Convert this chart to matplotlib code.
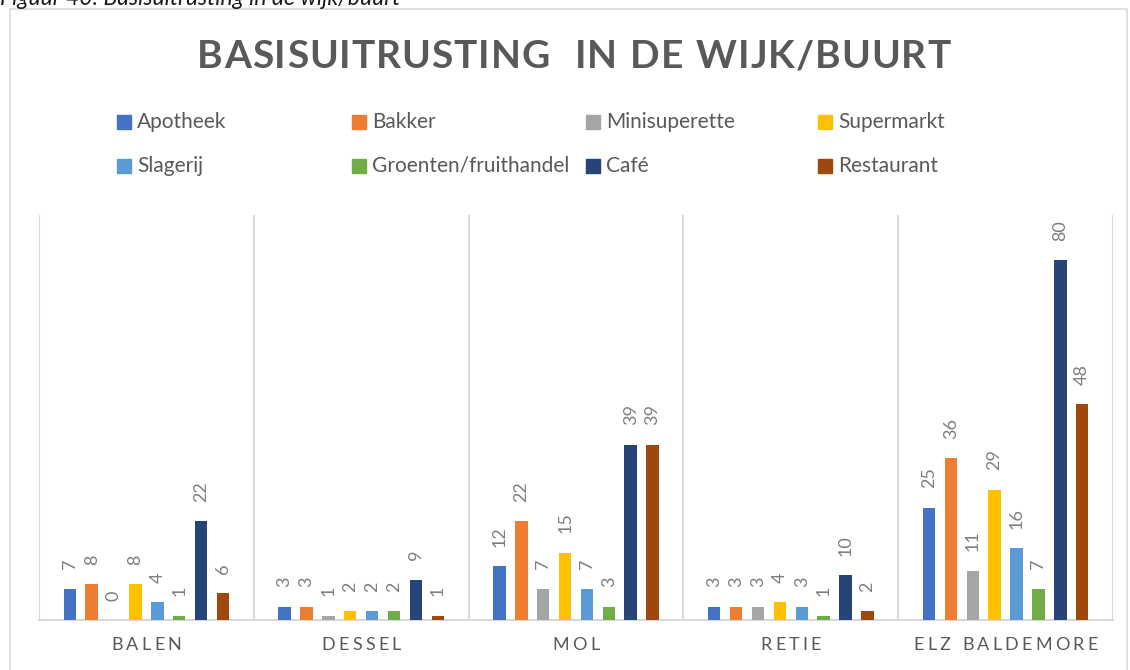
import matplotlib
matplotlib.use("Agg")
import matplotlib.pyplot as plt
from matplotlib.patches import Rectangle

# gemeenten (categorieën) en aantal voorzieningen per type
gemeenten = ["BALEN", "DESSEL", "MOL", "RETIE", "ELZ BALDEMORE"]
series = ["Apotheek", "Bakker", "Minisuperette", "Supermarkt",
          "Slagerij", "Groenten/fruithandel", "Café", "Restaurant"]
apotheek = [7, 3, 12, 3, 25]
bakker = [8, 3, 22, 3, 36]
minisuperette = [0, 1, 7, 3, 11]
supermarkt = [8, 2, 15, 4, 29]
slagerij = [4, 2, 7, 3, 16]
groenten = [1, 2, 3, 1, 7]
cafe = [22, 9, 39, 10, 80]
restaurant = [6, 1, 39, 2, 48]
waarden = [apotheek, bakker, minisuperette, supermarkt,
           slagerij, groenten, cafe, restaurant]
kleuren = ["#4472C4", "#ED7D31", "#A5A5A5", "#FFC000",
           "#5B9BD5", "#70AD47", "#264478", "#9E480E"]

W, H = 1130, 670
FONT = "Lato"
TXT = "#595959"
LINE = "#D9D9D9"


def fx(px):
    return px / W


def fy(py):
    return 1 - py / H


def spaced_text(fig, x, y, s, tracking, **kw):
    """Tekst met extra letterafstand, gecentreerd rond (x, y) in pixels."""
    r = fig.canvas.get_renderer()
    size = kw.get("fontsize", 12) * fig.dpi / 72
    widths = []
    for ch in s:
        if ch == " ":
            widths.append(0.28 * size)
            continue
        t = fig.text(0, 0, ch, **kw)
        widths.append(t.get_window_extent(r).width)
        t.remove()
    total = sum(widths) + tracking * (len(s) - 1)
    cx = x - total / 2
    for ch, w in zip(s, widths):
        if ch != " ":
            fig.text(fx(cx), fy(y), ch, ha="left", va="center", **kw)
        cx += w + tracking


fig = plt.figure(figsize=(W / 100, H / 100), dpi=100)

# kader rond de grafiek
fig.patches.append(Rectangle((fx(10), fy(700)), fx(1127) - fx(10), fy(9) - fy(700),
                             transform=fig.transFigure, fill=False,
                             edgecolor=LINE, linewidth=1.2))
fig.text(fx(0), fy(5), "Figuur 40: Basisuitrusting in de wijk/buurt",
         fontsize=16.5, style="italic", family=FONT, color="#1a1a1a",
         ha="left", va="baseline")

ax = fig.add_axes([fx(39), fy(620), fx(1113) - fx(39), fy(215) - fy(620)])
ax.set_xlim(-0.5, len(gemeenten) - 0.5)
ax.set_ylim(0, 90)

slot = 0.1019
breedte = 0.058
for i, (naam, vals, kleur) in enumerate(zip(series, waarden, kleuren)):
    off = (i - 3.5) * slot
    xs = [g + off for g in range(len(gemeenten))]
    ax.bar(xs, vals, width=breedte, color=kleur, zorder=3)
    for x, v in zip(xs, vals):
        ax.annotate(str(v), (x, v), xytext=(0, 14), textcoords="offset points",
                    rotation=90, ha="center", va="bottom", fontsize=13,
                    family=FONT, color="#7F7F7F")

for g in range(len(gemeenten) + 1):
    ax.axvline(g - 0.5, color=LINE, linewidth=1.5, zorder=1)
for s in ["top", "right", "left"]:
    ax.spines[s].set_visible(False)
ax.spines["bottom"].set_color(LINE)
ax.spines["bottom"].set_linewidth(1.5)
ax.set_xticks([])
ax.set_yticks([])
ax.patch.set_alpha(0)

# titel en categorielabels met letterafstand
spaced_text(fig, 574, 57, "BASISUITRUSTING  IN DE WIJK/BUURT", 1.0,
            fontsize=28, fontweight="bold", family=FONT, color=TXT)
for g, naam in enumerate(gemeenten):
    cx = 39 + (g + 0.5) * (1113 - 39) / len(gemeenten)
    spaced_text(fig, cx, 645, naam, 3.2, fontsize=13, family=FONT, color=TXT)

# legenda: 2 rijen van 4
kol_x = [117, 352, 586, 818]
rij_y = [122, 166]
for i, (naam, kleur) in enumerate(zip(series, kleuren)):
    x0 = kol_x[i % 4]
    y0 = rij_y[i // 4]
    fig.patches.append(Rectangle((fx(x0), fy(y0 + 7)), fx(14), 14 / H,
                                 transform=fig.transFigure, color=kleur))
    fig.text(fx(x0 + 20), fy(y0), naam, ha="left", va="center",
             fontsize=15, family=FONT, color=TXT)

fig.savefig("out.png", dpi=100)
